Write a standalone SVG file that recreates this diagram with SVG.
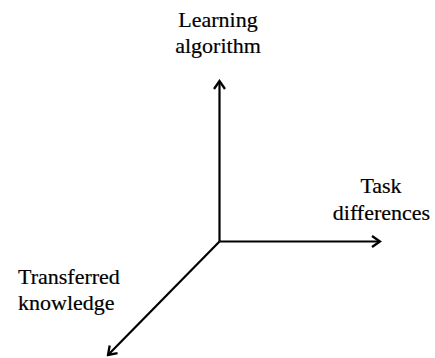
<svg xmlns="http://www.w3.org/2000/svg" width="435" height="358" viewBox="0 0 435 358">
  <style>
    .axis { fill: none; stroke: #000; stroke-width: 2.2; }
    .label { font-family: "Liberation Serif", "Times New Roman", serif; font-size: 22px; fill: #000; stroke: #000; stroke-width: 0.2; }
  </style>
  <defs>
    <marker id="arrow" viewBox="-10 -7 12 14" markerWidth="12" markerHeight="14" markerUnits="userSpaceOnUse" refX="0" refY="0" orient="auto">
      <path d="M-8,-5.5 L0,0 L-8,5.5" fill="none" stroke="#000" stroke-width="2.3" stroke-linejoin="miter"/>
    </marker>
  </defs>
  <rect width="435" height="358" fill="#fff"/>

  <!-- three axes meeting at the origin -->
  <g id="connectors">
    <line class="axis" x1="219.5" y1="241.5" x2="219.5" y2="81" marker-end="url(#arrow)"/>
    <line class="axis" x1="219.5" y1="241.5" x2="380" y2="241.5" marker-end="url(#arrow)"/>
    <line class="axis" x1="219.5" y1="241.5" x2="108" y2="355" marker-end="url(#arrow)"/>
  </g>

  <g id="learning-algorithm">
    <text class="label" x="218" y="27" text-anchor="middle">Learning</text>
    <text class="label" x="218" y="53" text-anchor="middle">algorithm</text>
  </g>

  <g id="task-differences">
    <text class="label" x="381" y="193" text-anchor="middle">Task</text>
    <text class="label" x="381.5" y="220" text-anchor="middle">differences</text>
  </g>

  <g id="transferred-knowledge">
    <text class="label" x="18" y="284">Transferred</text>
    <text class="label" x="18" y="310">knowledge</text>
  </g>
</svg>
